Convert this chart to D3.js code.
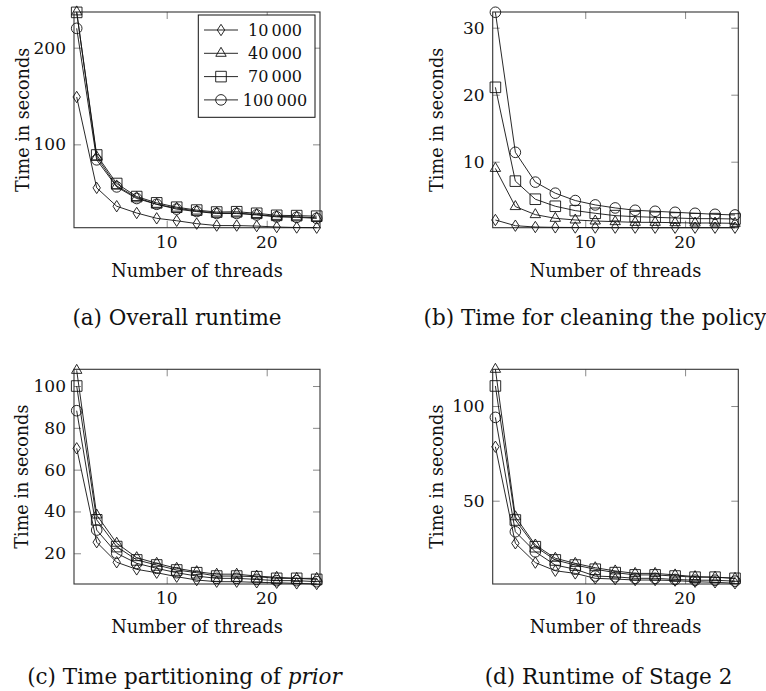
<!DOCTYPE html>
<html>
<head>
<meta charset="utf-8">
<script src="https://cdn.jsdelivr.net/npm/d3@7"></script>
<style>
  html, body { margin: 0; padding: 0; background: #fff; }
  svg { display: block; }
</style>
</head>
<body>
<svg id="chart" width="766" height="691"></svg>
<script>
// ---------- data ----------
const threads = [1, 3, 5, 7, 9, 11, 13, 15, 17, 19, 21, 23, 25];
const seriesNames = ["10\u2009000", "40\u2009000", "70\u2009000", "100\u2009000"];
const markerTypes = ["diamond", "triangle", "square", "circle"];

// (a) Overall runtime
const overall_10000  = [149, 55, 36, 29, 23.5, 21, 18, 16, 16, 15.5, 14.5, 14, 13.8];
const overall_40000  = [237, 87, 57, 45, 38, 34, 31, 29, 29, 27.5, 25.5, 25, 24];
const overall_70000  = [236.5, 89, 59.5, 46, 39.5, 35, 32, 30, 30.3, 28.7, 26.6, 26.3, 25.7];
const overall_100000 = [220, 84, 56, 44, 38, 33, 30.5, 28.5, 28.5, 27, 25, 24.5, 23.5];

// (b) Time for cleaning the policy
const clean_10000  = [1.3, 0.45, 0.25, 0.2, 0.18, 0.17, 0.16, 0.16, 0.15, 0.15, 0.15, 0.15, 0.15];
const clean_40000  = [9, 3.3, 2.1, 1.55, 1.3, 1.15, 1.05, 0.95, 0.95, 0.9, 0.85, 0.85, 0.8];
const clean_70000  = [21.1, 7.1, 4.4, 3.35, 2.7, 2.3, 1.95, 1.8, 1.7, 1.6, 1.5, 1.5, 1.45];
const clean_100000 = [32.3, 11.4, 6.95, 5.3, 4.2, 3.55, 3.1, 2.75, 2.6, 2.45, 2.3, 2.15, 2.05];

// (c) Time partitioning of prior
const part_10000  = [70.2, 25.3, 15.7, 12.3, 10.7, 8.8, 7.2, 6.4, 6.4, 6.1, 5.9, 5.6, 5.3];
const part_40000  = [107.5, 38.3, 24.8, 17.9, 15.2, 12.8, 11.2, 10, 10, 9.1, 8.5, 8, 8];
const part_70000  = [100, 36, 23.2, 16.8, 14.4, 12, 10.7, 9.1, 9.1, 8.8, 8, 8, 7.5];
const part_100000 = [88.2, 31.1, 20, 15.2, 12.8, 10.7, 9.1, 8, 8, 7.5, 6.9, 6.9, 6.4];

// (d) Runtime of Stage 2
const stage2_10000  = [78.5, 27.5, 17.3, 13, 11.6, 9, 8.6, 8.1, 8.1, 7.8, 7.2, 6.9, 6.4];
const stage2_40000  = [119.4, 41.5, 26.6, 19.6, 16.9, 14.6, 12.9, 11.6, 11.6, 10.8, 9.9, 9.6, 9];
const stage2_70000  = [110.6, 39.8, 25.7, 18.7, 16, 13.8, 12, 10.8, 10.8, 10.2, 9.6, 9.6, 9];
const stage2_100000 = [94, 33.6, 23, 16, 13.8, 10.2, 9.8, 9, 9, 8.4, 8, 8, 7.5];

// axis ranges and ticks
const xRange = [0.73, 25.33];
const xTicks = [10, 20];
const yRangeA = [13.8, 236.9], yTicksA = [100, 200];
const yRangeB = [0.15, 32.34], yTicksB = [10, 20, 30];
const yRangeC = [5.3, 108], yTicksC = [20, 40, 60, 80, 100];
const yRangeD = [6.0, 119.4], yTicksD = [50, 100];

const xLabel = "Number of threads";
const yLabel = "Time in seconds";

// ---------- drawing ----------
const FONT = "DejaVu Serif";
const svg = d3.select("#chart");

function markerPath(type) {
  switch (type) {
    case "diamond":  return "M0,-5.7L3.7,0L0,5.7L-3.7,0Z";
    case "triangle": return "M0,-6L5.2,3L-5.2,3Z";
    case "square":   return "M-5.3,-5.3H5.3V5.3H-5.3Z";
    case "circle":   return "M5.3,0A5.3,5.3 0 1,1 -5.3,0A5.3,5.3 0 1,1 5.3,0Z";
  }
}

function txt(sel) {
  return sel.style("font-family", FONT).attr("fill", "#111");
}

function drawPanel(opt) {
  const g = svg.append("g");
  const x = d3.scaleLinear().domain(xRange).range([opt.left, opt.right]);
  const y = d3.scaleLinear().domain(opt.yRange).range([opt.bottom, opt.top]);
  const tickLen = 7;

  const bottomAxis = d3.axisBottom(x).tickValues(xTicks).tickSize(-tickLen).tickFormat("");
  const topAxis = d3.axisTop(x).tickValues(xTicks).tickSize(-tickLen).tickFormat("");
  const leftAxis = d3.axisLeft(y).tickValues(opt.yTicks).tickSize(-tickLen).tickFormat("");
  const rightAxis = d3.axisRight(y).tickValues(opt.yTicks).tickSize(-tickLen).tickFormat("");
  [[bottomAxis, `translate(0,${opt.bottom})`], [topAxis, `translate(0,${opt.top})`],
   [leftAxis, `translate(${opt.left},0)`], [rightAxis, `translate(${opt.right},0)`]].forEach(([ax, tr]) => {
    const a = g.append("g").attr("transform", tr).call(ax);
    a.select(".domain").remove();
    a.selectAll(".tick line").attr("stroke", "#8a8a8a").attr("stroke-width", 1);
  });

  g.selectAll(".xtl").data(xTicks).enter().append("text")
    .attr("x", d => x(d)).attr("y", opt.bottom + 14).attr("dy", "0.35em")
    .attr("text-anchor", "middle").attr("font-size", 17).call(txt).text(d => d);
  g.selectAll(".ytl").data(opt.yTicks).enter().append("text")
    .attr("x", opt.left - 8).attr("y", d => y(d)).attr("dy", "0.35em")
    .attr("text-anchor", "end").attr("font-size", 17).call(txt).text(d => d);

  g.append("rect").attr("x", opt.left).attr("y", opt.top)
    .attr("width", opt.right - opt.left).attr("height", opt.bottom - opt.top)
    .attr("fill", "none").attr("stroke", "#333").attr("stroke-width", 1.1);

  const line = d3.line().x(d => x(d[0])).y(d => y(d[1]));
  opt.series.forEach((vals, i) => {
    const pts = threads.map((t, j) => [t, vals[j]]);
    g.append("path").datum(pts).attr("d", line)
      .attr("fill", "none").attr("stroke", "#111").attr("stroke-width", 0.9);
    g.selectAll(null).data(pts).enter().append("path")
      .attr("transform", d => `translate(${x(d[0])},${y(d[1])})`)
      .attr("d", markerPath(markerTypes[i]))
      .attr("fill", "none").attr("stroke", "#111").attr("stroke-width", 0.9);
  });

  g.append("text").attr("x", (opt.left + opt.right) / 2).attr("y", opt.bottom + 43)
    .attr("dy", "0.35em").attr("text-anchor", "middle").attr("font-size", 17.8).call(txt).text(xLabel);
  g.append("text")
    .attr("transform", `translate(${opt.ylabelX},${(opt.top + opt.bottom) / 2}) rotate(-90)`)
    .attr("dy", "0.35em").attr("text-anchor", "middle").attr("font-size", 17.6).call(txt).text(yLabel);

  const cap = g.append("text").attr("x", opt.capX).attr("y", opt.bottom + opt.capDy)
    .attr("dy", "0.35em").attr("text-anchor", "middle").attr("font-size", 21.5).call(txt);
  cap.append("tspan").text(opt.caption);
  if (opt.captionItalic) cap.append("tspan").style("font-style", "italic").text(opt.captionItalic);

  return { g, x, y };
}

const pA = drawPanel({ left: 74, right: 320, top: 12, bottom: 227.7, yRange: yRangeA, yTicks: yTicksA,
  series: [overall_10000, overall_40000, overall_70000, overall_100000],
  ylabelX: 23, capX: 177, capDy: 90, caption: "(a) Overall runtime" });
drawPanel({ left: 492.7, right: 738.3, top: 12, bottom: 227.7, yRange: yRangeB, yTicks: yTicksB,
  series: [clean_10000, clean_40000, clean_70000, clean_100000],
  ylabelX: 437, capX: 595, capDy: 90, caption: "(b) Time for cleaning the policy" });
drawPanel({ left: 74, right: 320, top: 369.3, bottom: 584, yRange: yRangeC, yTicks: yTicksC,
  series: [part_10000, part_40000, part_70000, part_100000],
  ylabelX: 22, capX: 184.5, capDy: 92, caption: "(c) Time partitioning of ", captionItalic: "prior" });
drawPanel({ left: 492.7, right: 738.3, top: 369.3, bottom: 584, yRange: yRangeD, yTicks: yTicksD,
  series: [stage2_10000, stage2_40000, stage2_70000, stage2_100000],
  ylabelX: 437, capX: 608.5, capDy: 92, caption: "(d) Runtime of Stage 2" });

// legend in panel (a)
const leg = pA.g.append("g");
leg.append("rect").attr("x", 198.3).attr("y", 15).attr("width", 116.7).attr("height", 102.3)
  .attr("fill", "#fff").attr("stroke", "#111").attr("stroke-width", 1);
seriesNames.forEach((name, i) => {
  const cy = 30 + i * 23.3;
  leg.append("line").attr("x1", 204).attr("x2", 238).attr("y1", cy).attr("y2", cy)
    .attr("stroke", "#111").attr("stroke-width", 0.9);
  leg.append("path").attr("transform", `translate(221,${cy})`).attr("d", markerPath(markerTypes[i]))
    .attr("fill", "none").attr("stroke", "#111").attr("stroke-width", 0.9);
  leg.append("text").attr("x", 275).attr("y", cy).attr("dy", "0.35em")
    .attr("text-anchor", "middle").attr("font-size", 16).call(txt).text(name);
});
</script>
</body>
</html>
